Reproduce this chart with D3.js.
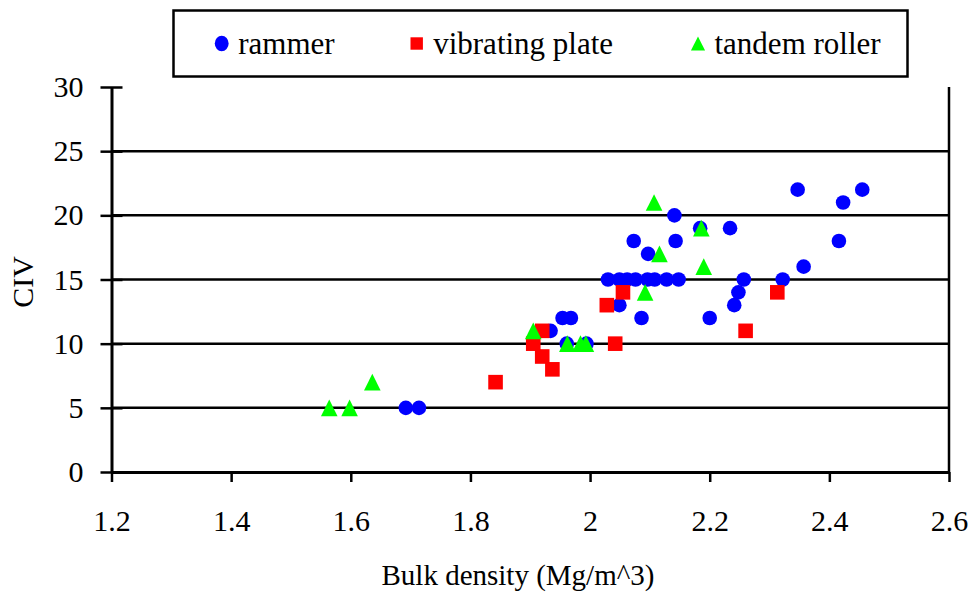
<!DOCTYPE html>
<html>
<head>
<meta charset="utf-8">
<script src="https://cdn.jsdelivr.net/npm/d3@7"></script>
<style>
  body { margin: 0; background: #fff; }
  text { font-family: 'Liberation Serif', 'Times New Roman', serif; fill: #000; }
</style>
</head>
<body>
<div id="chart-1"></div>
<script>
// bulk density (Mg/m^3) vs CIV, one array per compaction method
const rammer = [
  [1.692, 5], [1.714, 5],
  [1.934, 11], [1.954, 12], [1.968, 12], [1.961, 10], [1.994, 10],
  [2.049, 13], [2.086, 12],
  [2.03, 15], [2.049, 15], [2.062, 15], [2.076, 15], [2.096, 15], [2.108, 15], [2.128, 15], [2.148, 15],
  [2.073, 18], [2.097, 17], [2.141, 20], [2.143, 18], [2.184, 19], [2.234, 19],
  [2.2, 12], [2.241, 13], [2.248, 14], [2.257, 15], [2.322, 15],
  [2.347, 22], [2.357, 16], [2.416, 18], [2.423, 21], [2.455, 22]
]
const vibratingPlate = [
  [1.842, 7], [1.905, 10], [1.92, 11], [1.92, 9], [1.937, 8],
  [2.028, 13], [2.042, 10], [2.055, 14], [2.26, 11], [2.313, 14]
]
const tandemRoller = [
  [1.564, 5], [1.598, 5], [1.636, 7], [1.905, 11], [1.962, 10],
  [1.984, 10], [1.993, 10], [2.092, 14], [2.107, 21], [2.116, 17],
  [2.186, 19], [2.19, 16]
]

const seriesNames = ['rammer', 'vibrating plate', 'tandem roller']
const xTicks = [1.2, 1.4, 1.6, 1.8, 2, 2.2, 2.4, 2.6]
const yTicks = [0, 5, 10, 15, 20, 25, 30]

const W = 975
const H = 592
const plot = { left: 111.5, right: 949, top: 87, bottom: 472 }

const svg = d3
  .select('#chart-1')
  .append('svg')
  .attr('width', W)
  .attr('height', H)

const x = d3.scaleLinear().domain([1.2, 2.6]).range([plot.left, plot.right])
const y = d3.scaleLinear().domain([0, 30]).range([plot.bottom, plot.top])

// horizontal grid lines (none at the top)
svg
  .append('g')
  .selectAll('line')
  .data(yTicks.filter(d => d > 0 && d < 30))
  .enter()
  .append('line')
  .attr('x1', plot.left)
  .attr('x2', plot.right)
  .attr('y1', d => y(d))
  .attr('y2', d => y(d))
  .attr('stroke', '#000')
  .attr('stroke-width', 2.5)

// right border of the plot area
svg
  .append('line')
  .attr('x1', plot.right)
  .attr('x2', plot.right)
  .attr('y1', plot.top)
  .attr('y2', plot.bottom)
  .attr('stroke', '#000')
  .attr('stroke-width', 2.5)

const yAxis = d3
  .axisLeft(y)
  .tickValues(yTicks)
  .tickSize(11)
  .tickSizeOuter(0)
  .tickPadding(17)
svg
  .append('g')
  .attr('class', 'axis y-axis')
  .attr('transform', 'translate(' + plot.left + ',0)')
  .call(yAxis)

const xAxis = d3
  .axisBottom(x)
  .tickValues(xTicks)
  .tickFormat(d3.format('~g'))
  .tickSize(10)
  .tickSizeOuter(0)
  .tickPadding(28)
svg
  .append('g')
  .attr('class', 'axis x-axis')
  .attr('transform', 'translate(0,' + plot.bottom + ')')
  .call(xAxis)

svg.selectAll('.axis .domain').attr('stroke', '#000').attr('stroke-width', 3)
svg.selectAll('.axis .tick line').attr('stroke', '#000').attr('stroke-width', 2.5)
// y ticks cross the axis
svg.selectAll('.y-axis .tick line').attr('x1', 11)
svg
  .selectAll('.axis .tick text')
  .attr('font-size', 30)
  .attr('font-family', "'Liberation Serif', 'Times New Roman', serif")

svg
  .append('text')
  .attr('x', 518)
  .attr('y', 585)
  .attr('text-anchor', 'middle')
  .attr('font-size', 29)
  .text('Bulk density (Mg/m^3)')

svg
  .append('text')
  .attr('transform', 'translate(33,282) rotate(-90)')
  .attr('text-anchor', 'middle')
  .attr('font-size', 30)
  .text('CIV')

// marker shapes
const triangle = s => `M0,${-s}L${s},${s}L${-s},${s}Z`
function drawMarker(g, kind) {
  if (kind === 0) {
    g.append('circle').attr('r', 7.3).attr('fill', '#0000ff')
  } else if (kind === 1) {
    g.append('rect')
      .attr('x', -7.3)
      .attr('y', -7.3)
      .attr('width', 14.6)
      .attr('height', 14.6)
      .attr('fill', '#ff0000')
  } else {
    g.append('path').attr('d', triangle(8.3)).attr('fill', '#00ff00')
  }
}

const allSeries = [rammer, vibratingPlate, tandemRoller]
allSeries.forEach((pts, k) => {
  svg
    .append('g')
    .selectAll('g')
    .data(pts)
    .enter()
    .append('g')
    .attr('transform', d => 'translate(' + x(d[0]) + ',' + y(d[1]) + ')')
    .each(function() {
      drawMarker(d3.select(this), k)
    })
})

// legend
const legend = svg.append('g')
legend
  .append('rect')
  .attr('x', 173.5)
  .attr('y', 10.5)
  .attr('width', 734)
  .attr('height', 66)
  .attr('fill', '#fff')
  .attr('stroke', '#000')
  .attr('stroke-width', 2.5)

const legendX = [221.7, 416.7, 698]
seriesNames.forEach((name, k) => {
  const item = legend.append('g')
  drawMarker(
    item.append('g').attr('transform', 'translate(' + legendX[k] + ',43.5)' + (k === 0 ? ' scale(0.95,1.05)' : ' scale(0.85)')),
    k
  )
  item
    .append('text')
    .attr('x', legendX[k] + 16.5)
    .attr('y', 53.5)
    .attr('font-size', 31)
    .text(name)
})
</script>
</body>
</html>
